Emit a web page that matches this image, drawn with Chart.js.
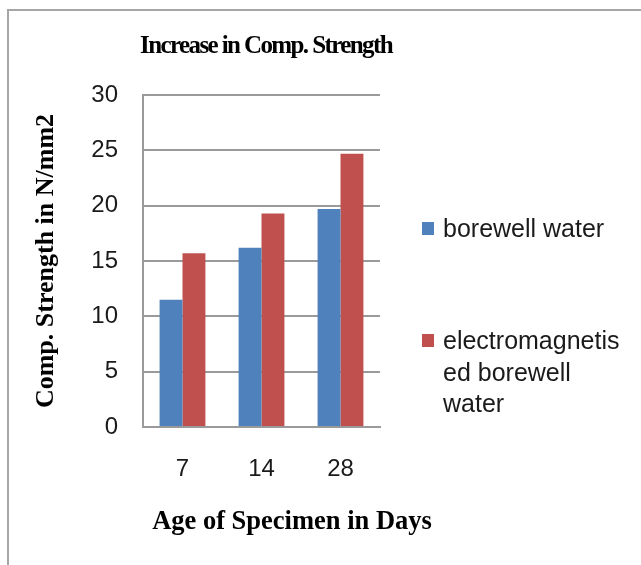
<!DOCTYPE html>
<html>
<head>
<meta charset="utf-8">
<script src="https://cdn.jsdelivr.net/npm/chart.js@4/dist/chart.umd.min.js"></script>
<style>
  html, body { margin: 0; padding: 0; background: #fff; overflow: hidden; }
  #wrap { position: relative; width: 641px; height: 565px; }
  #frame {
    position: absolute; left: 7px; top: 9px; width: 700px; height: 600px;
    border-left: 2px solid #a6a6a6; border-top: 2px solid #a6a6a6;
  }
  #chart { position: absolute; left: 0; top: 0; }
  .ttl {
    position: absolute; white-space: nowrap; transform: translateX(-50%);
    font-family: 'Liberation Serif', 'Times New Roman', serif; font-weight: bold;
    color: #000; line-height: 1;
  }
  #mainTitle { left: 266px; top: 32px; font-size: 25px; letter-spacing: -1.6px; }
  #xTitle { left: 292px; top: 507px; font-size: 26.5px; }
  .legend-item {
    position: absolute; left: 422px; display: flex; align-items: flex-start;
    font-family: 'Liberation Sans', sans-serif; font-size: 25px; line-height: 31.5px;
    color: #1a1a1a;
  }
  .legend-item .box { width: 12px; height: 13px; margin-top: 9px; margin-right: 9px; flex: none; }
  .legend-item .txt { width: 182px; overflow-wrap: anywhere; }
</style>
</head>
<body>
<div id="wrap">
  <div id="frame"></div>
  <canvas id="chart" width="641" height="565"></canvas>
  <div id="mainTitle" class="ttl"></div>
  <div id="xTitle" class="ttl"></div>
  <div id="legend"></div>
</div>
<script>
const ages = ["7", "14", "28"];
const borewell = [11.5, 16.2, 19.7];
const electromagnetised = [15.7, 19.3, 24.7];
const seriesNames = ["borewell water", "electromagnetised borewell water"];
const seriesColors = ["#4f81bd", "#c0504d"];
const chartTitle = "Increase in Comp. Strength";
const xTitle = "Age of Specimen in Days";
const yTitle = "Comp. Strength in N/mm2";
const legendTops = [213, 325];

const gridColor = "#9a9a9a";
const serif = "'Liberation Serif', 'Times New Roman', serif";
const sans = "'Liberation Sans', Arial, sans-serif";

const chart = new Chart(document.getElementById("chart"), {
  type: "bar",
  data: {
    labels: ages,
    datasets: [
      { label: seriesNames[0], data: borewell, backgroundColor: seriesColors[0] },
      { label: seriesNames[1], data: electromagnetised, backgroundColor: seriesColors[1] },
    ],
  },
  options: {
    responsive: false,
    animation: false,
    categoryPercentage: 0.58,
    barPercentage: 1,
    layout: { padding: { top: 95, left: 15, right: 261, bottom: 54 } },
    plugins: {
      legend: { display: false },
      tooltip: { enabled: false },
    },
    scales: {
      x: {
        grid: { display: false, drawTicks: false },
        border: { display: true, color: gridColor, width: 2 },
        ticks: { color: "#1a1a1a", font: { family: sans, size: 24 }, padding: 27.6 },
      },
      y: {
        min: 0,
        max: 30,
        ticks: { stepSize: 5, color: "#1a1a1a", font: { family: sans, size: 24 }, padding: 25 },
        grid: { color: gridColor, lineWidth: 2, drawTicks: false },
        border: { display: true, color: gridColor, width: 2 },
        title: {
          display: true,
          text: yTitle,
          color: "#000",
          font: { family: serif, size: 26, weight: "bold" },
          padding: { top: 15.4, bottom: 4.7 },
        },
      },
    },
  },
});

// titles and legend as html: the originals are wider than the plot and off-centre
document.getElementById("mainTitle").textContent = chartTitle;
document.getElementById("xTitle").textContent = xTitle;

const legendEl = document.getElementById("legend");
chart.data.datasets.forEach((ds, i) => {
  const item = document.createElement("div");
  item.className = "legend-item";
  item.style.top = legendTops[i] + "px";
  const box = document.createElement("span");
  box.className = "box";
  box.style.background = ds.backgroundColor;
  const txt = document.createElement("span");
  txt.className = "txt";
  txt.textContent = ds.label;
  item.appendChild(box);
  item.appendChild(txt);
  legendEl.appendChild(item);
});
</script>
</body>
</html>
